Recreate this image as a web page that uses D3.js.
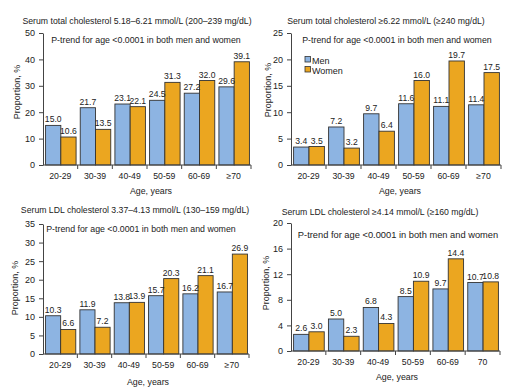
<!DOCTYPE html>
<html><head><meta charset="utf-8">
<script src="https://cdn.jsdelivr.net/npm/d3@7"></script>
<style>
body{margin:0;background:#fff;}
text{font-family:"Liberation Sans",Arial,sans-serif;fill:#222;}
</style></head>
<body><svg id="c" width="519" height="390"></svg>
<script>
const categories = ["20-29","30-39","40-49","50-59","60-69","≥70"];
const categories4 = ["20-29","30-39","40-49","50-59","60-69","70"];
const seriesNames = ["Men","Women"];

const titles = [
  "Serum total cholesterol  5.18–6.21 mmol/L (200–239 mg/dL)",
  "Serum total cholesterol  ≥6.22  mmol/L (≥240 mg/dL)",
  "Serum LDL cholesterol  3.37–4.13 mmol/L (130–159 mg/dL)",
  "Serum LDL cholesterol  ≥4.14 mmol/L (≥160 mg/dL)"
];
const ptrend = "P-trend for age <0.0001 in both men and women";

const men1 = [15.0,21.7,23.1,24.5,27.2,29.6];
const women1 = [10.6,13.5,22.1,31.3,32.0,39.1];
const men2 = [3.4,7.2,9.7,11.6,11.1,11.4];
const women2 = [3.5,3.2,6.4,16.0,19.7,17.5];
const men3 = [10.3,11.9,13.8,15.7,16.2,16.7];
const women3 = [6.6,7.2,13.9,20.3,21.1,26.9];
const men4 = [2.6,5.0,6.8,8.5,9.7,10.7];
const women4 = [3.0,2.3,4.3,10.9,14.4,10.8];

const yTicks1 = [0,10,20,30,40,50];
const yTicks2 = [0,5,10,15,20,25];
const yTicks3 = [0,5,10,15,20,25,30,35];
const yTicks4 = [0,4,8,12,16,20];

const colors = {Men:"#8DB4E2", Women:"#EBA620"};

const panels = [
  {cats:categories, men:men1, women:women1, ticks:yTicks1, title:titles[0],
   x0:43, x1:251, yb:165, yt:33, tx:137, ty:24, px:146, py:43, pfs:8.8, ylx:20, yly:92, xlx:151, xly:194, legend:false},
  {cats:categories, men:men2, women:women2, ticks:yTicks2, title:titles[1],
   x0:291, x1:501, yb:165, yt:33, tx:386, ty:24, px:397, py:43, pfs:8.8, ylx:271, yly:90, xlx:400, xly:194, legend:true},
  {cats:categories, men:men3, women:women3, ticks:yTicks3, title:titles[2],
   x0:43, x1:249, yb:354, yt:224, tx:135, ty:213, px:141, py:232, pfs:8.8, ylx:18, yly:288, xlx:148, xly:385, legend:false},
  {cats:categories4, men:men4, women:women4, ticks:yTicks4, title:titles[3],
   x0:291, x1:500, yb:351, yt:223, tx:380, ty:215, px:398, py:238, pfs:9.3, ylx:269, yly:283, xlx:397, xly:380, legend:false}
];

const svg = d3.select("#c");

panels.forEach(p => {
  const g = svg.append("g");
  const x = d3.scaleBand().domain(p.cats).range([p.x0, p.x1]).paddingInner(0.12).paddingOuter(0.06);
  const xs = d3.scaleBand().domain(seriesNames).range([0, x.bandwidth()]);
  const ymax = p.ticks[p.ticks.length-1];
  const y = d3.scaleLinear().domain([0, ymax]).range([p.yb, p.yt]);

  const rows = p.cats.map((c,i)=>({cat:c, vals:[{s:"Men",v:p.men[i]},{s:"Women",v:p.women[i]}]}));

  const grp = g.selectAll(".grp").data(rows).enter().append("g")
    .attr("transform", d=>`translate(${x(d.cat)},0)`);
  grp.selectAll("rect").data(d=>d.vals).enter().append("rect")
    .attr("x", d=>xs(d.s)+0.5).attr("width", xs.bandwidth())
    .attr("y", d=>y(d.v)).attr("height", d=>p.yb - y(d.v))
    .attr("fill", d=>colors[d.s]).attr("stroke","#333").attr("stroke-width",0.9);
  grp.selectAll("text.v").data(d=>d.vals).enter().append("text")
    .attr("class","v")
    .attr("x", d=>xs(d.s)+xs.bandwidth()/2+0.5).attr("y", d=>y(d.v)-3)
    .attr("text-anchor","middle").style("font-size","8.6px").text(d=>d.v.toFixed(1));

  // y axis
  const ya = d3.axisLeft(y).tickValues(p.ticks).tickSize(4).tickSizeOuter(0).tickPadding(4);
  const yg = g.append("g").attr("transform",`translate(${p.x0},0)`).call(ya);
  yg.selectAll("text").style("font-size","9px").style("font-family","Liberation Sans, Arial, sans-serif").attr("fill","#222");
  yg.selectAll("line,path").attr("stroke","#444");

  // x axis
  const xa = d3.axisBottom(x).tickSize(0).tickPadding(8);
  const xg = g.append("g").attr("transform",`translate(0,${p.yb})`).call(xa);
  xg.select("path").attr("stroke","#444").attr("d", `M${p.x0},0H${p.x1}`);
  xg.selectAll("text").style("font-size","8.7px").style("font-family","Liberation Sans, Arial, sans-serif").attr("fill","#222");
  // boundary ticks
  const bounds = p.cats.slice(1).map(c => x(c) - x.step()*x.paddingInner()/2);
  bounds.push(p.x1);
  g.selectAll(".bt").data(bounds).enter().append("line")
    .attr("x1",d=>d).attr("x2",d=>d).attr("y1",p.yb).attr("y2",p.yb+4).attr("stroke","#444");

  g.append("text").attr("x",p.tx).attr("y",p.ty).attr("text-anchor","middle")
    .style("font-size","8.7px").text(p.title);
  g.append("text").attr("x",p.px).attr("y",p.py).attr("text-anchor","middle")
    .style("font-size",p.pfs+"px").text(ptrend);
  g.append("text").attr("x",p.xlx).attr("y",p.xly).attr("text-anchor","middle")
    .style("font-size","8.8px").text("Age, years");
  g.append("text").attr("transform",`translate(${p.ylx},${p.yly}) rotate(-90)`).attr("text-anchor","middle")
    .style("font-size","9px").text("Proportion, %");

  if (p.legend) {
    const lg = g.append("g").attr("transform",`translate(${p.x0+14},${p.yt+28})`);
    seriesNames.forEach((s,i)=>{
      lg.append("rect").attr("x",0).attr("y",i*10-4.5).attr("width",5.5).attr("height",5.5)
        .attr("fill",colors[s]).attr("stroke","#333").attr("stroke-width",0.8);
      lg.append("text").attr("x",7).attr("y",i*10+3).style("font-size","9px").text(s);
    });
  }
});
</script></body></html>
